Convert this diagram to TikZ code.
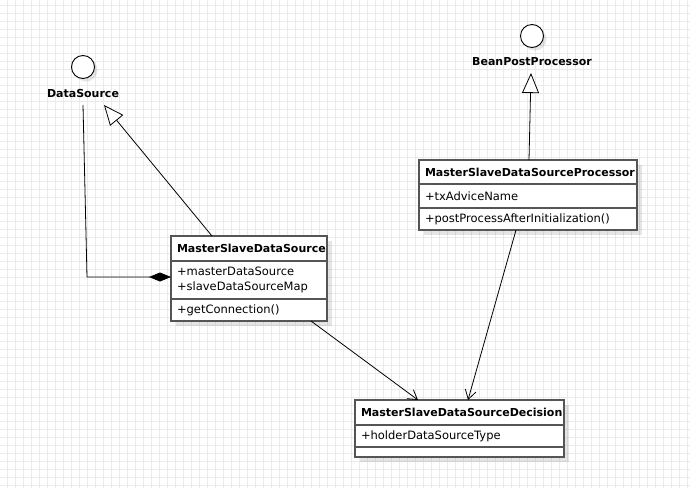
\documentclass[tikz,border=0pt]{standalone}
\usepackage{fontspec}
\setmainfont{DejaVu Sans}
\usetikzlibrary{positioning,shadows,arrows.meta}
\definecolor{boxgray}{RGB}{85,85,85}
\definecolor{gridgray}{RGB}{234,234,234}
\tikzset{
  umlpart/.style={draw=boxgray, line width=1.6pt, fill=white, outer sep=0pt,
    inner xsep=6pt, inner ysep=0pt, text width=#1, align=left,
    drop shadow={shadow xshift=5pt, shadow yshift=-5pt, fill=black, opacity=0.1}},
  umlhead/.style={umlpart=#1, font=\bfseries\fontsize{11}{13}\selectfont},
  umlbody/.style={umlpart=#1, font=\fontsize{11.5}{15}\selectfont},
  iface/.style={circle, draw=black, line width=0.9pt, fill=white, minimum size=23pt, inner sep=0pt,
    drop shadow={shadow xshift=3pt, shadow yshift=-3pt, fill=black, opacity=0.1}},
  ifacename/.style={font=\bfseries\fontsize{11}{13}\selectfont, inner sep=0pt},
  realize/.style={draw=black, line width=0.8pt, -{Triangle[length=20pt, width=17pt, fill=white]}},
  compose/.style={draw=black, line width=0.8pt, -{Diamond[length=22pt, width=9pt]}},
  depend/.style={draw=black, line width=0.8pt, -{Straight Barb[length=9pt, width=11pt]}},
  gridline/.style={draw=gridgray, line width=1pt}
}
\begin{document}
\begin{tikzpicture}[x=1pt, y=-1pt]
\useasboundingbox[fill=white] (0,0) rectangle (690,488);
\foreach \gx in {7.5,15.5,...,690} \draw[gridline] (\gx,0) -- (\gx,488);
\foreach \gy in {5,13,...,488} \draw[gridline] (0,\gy) -- (690,\gy);

\node[iface] (dsIcon) at (83,67) {};
\node[ifacename, anchor=base] (dsName) at (83,97) {DataSource};
\node[iface] (bppIcon) at (532,36) {};
\node[ifacename, anchor=base] (bppName) at (532,65) {BeanPostProcessor};

\node[umlhead=144pt, minimum height=25pt, anchor=north west] (msdsHead) at (171,236) {MasterSlaveDataSource};
\node[umlbody=144pt, minimum height=38pt, below=0pt of msdsHead] (msdsAttr) {+masterDataSource\\+slaveDataSourceMap};
\node[umlbody=144pt, minimum height=22pt, below=0pt of msdsAttr] (msdsOps) {+getConnection()};

\node[umlhead=206pt, minimum height=24pt, anchor=north west] (procHead) at (419,160) {MasterSlaveDataSourceProcessor};
\node[umlbody=206pt, minimum height=24pt, below=0pt of procHead] (procAttr) {+txAdviceName};
\node[umlbody=206pt, minimum height=22pt, below=0pt of procAttr] (procOps) {+postProcessAfterInitialization()};

\node[umlhead=197pt, minimum height=25pt, anchor=north west] (decHead) at (355,400) {MasterSlaveDataSourceDecision};
\node[umlbody=197pt, minimum height=22pt, below=0pt of decHead] (decAttr) {+holderDataSourceType};
\node[umlbody=197pt, minimum height=10pt, below=0pt of decAttr] (decOps) {};

\coordinate (bend) at (87,277);
\draw[realize] ([xshift=41pt]msdsHead.north west) -- ([xshift=21pt,yshift=-8pt]dsName.base);
\draw[compose] ([yshift=-8pt]dsName.base) -- (bend) -- (bend -| msdsAttr.west);
\draw[realize] ([xshift=110pt]procHead.north west) -- ([xshift=-1pt,yshift=-8pt]bppName.base);
\draw[depend] ([xshift=140pt]msdsOps.south west) -- ([xshift=63pt]decHead.north west);
\draw[depend] ([xshift=97pt]procOps.south west) -- ([xshift=113pt]decHead.north west);
\end{tikzpicture}
\end{document}
